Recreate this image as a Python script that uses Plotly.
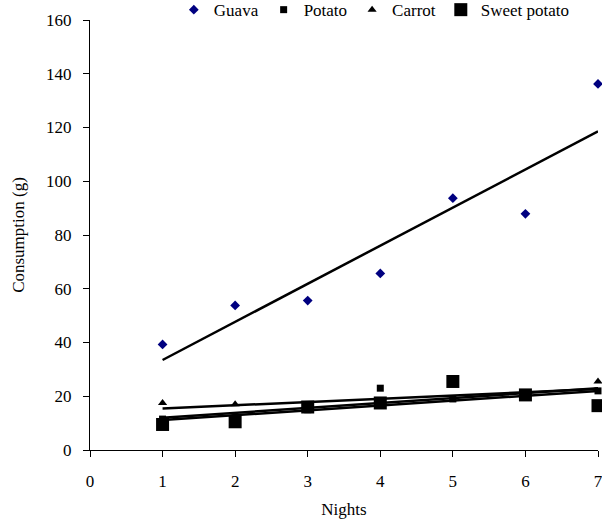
import numpy as np
import plotly.graph_objects as go

nights = [1, 2, 3, 4, 5, 6, 7]
guava = [39.3, 53.8, 55.6, 65.7, 93.7, 87.9, 136.2]
potato = [11.5, 12, 15, 23, 19, 20, 22]
carrot = [17.5, 17, 16, 18, 19, 20.5, 25.5]
sweet_potato = [9.5, 10.5, 16, 17.5, 25.5, 20.5, 16.5]

x_ticks = [0, 1, 2, 3, 4, 5, 6, 7]
y_ticks = [0, 20, 40, 60, 80, 100, 120, 140, 160]

series = [
    ("Guava", guava, "diamond", 7.5, "#000080"),
    ("Potato", potato, "square", 7, "black"),
    ("Carrot", carrot, "triangle-up", 8, "black"),
    ("Sweet potato", sweet_potato, "square", 13, "black"),
]

fig = go.Figure()
xs = np.array(nights, dtype=float)
for name, vals, sym, size, col in series:
    m, b = np.polyfit(xs, np.array(vals, dtype=float), 1)
    xl = [xs.min(), xs.max()]
    fig.add_trace(go.Scatter(x=xl, y=[m * v + b for v in xl], mode="lines",
                             line=dict(color="black", width=2.5), showlegend=False,
                             hoverinfo="skip", cliponaxis=False))
for name, vals, sym, size, col in series:
    fig.add_trace(go.Scatter(x=nights, y=vals, mode="markers", name=name,
                             marker=dict(symbol=sym, size=size, color=col, line=dict(width=0)),
                             cliponaxis=False))

font = dict(family="Liberation Serif", size=17, color="black")
fig.update_layout(
    width=602, height=523,
    margin=dict(l=90, r=4, t=20, b=73, autoexpand=False),
    paper_bgcolor="white", plot_bgcolor="white",
    font=font,
    legend=dict(orientation="h", x=0.165, xanchor="left", y=1.023, yanchor="middle",
                itemwidth=30,
                font=font, bgcolor="rgba(0,0,0,0)", tracegroupgap=0),
    xaxis=dict(range=[0, 7], tickvals=x_ticks, ticktext=[str(v) for v in x_ticks],
               showgrid=False, zeroline=False, showline=True, linecolor="black", linewidth=1,
               ticks="outside", ticklen=6, tickcolor="black", tickfont=font,
               ticklabelstandoff=10, ticklabeloverflow="allow",
               title=dict(text="Nights", font=font, standoff=12)),
    yaxis=dict(range=[0, 160], tickvals=y_ticks, ticktext=[str(v) for v in y_ticks],
               showgrid=False, zeroline=False, showline=True, linecolor="black", linewidth=1,
               ticks="outside", ticklen=6, tickcolor="black", tickfont=font,
               ticklabelstandoff=8,
               title=dict(text="Consumption (g)", font=font, standoff=17)),
)
fig.write_html("out.html", config={"displayModeBar": False},
               post_script="document.body.style.margin='0';")
